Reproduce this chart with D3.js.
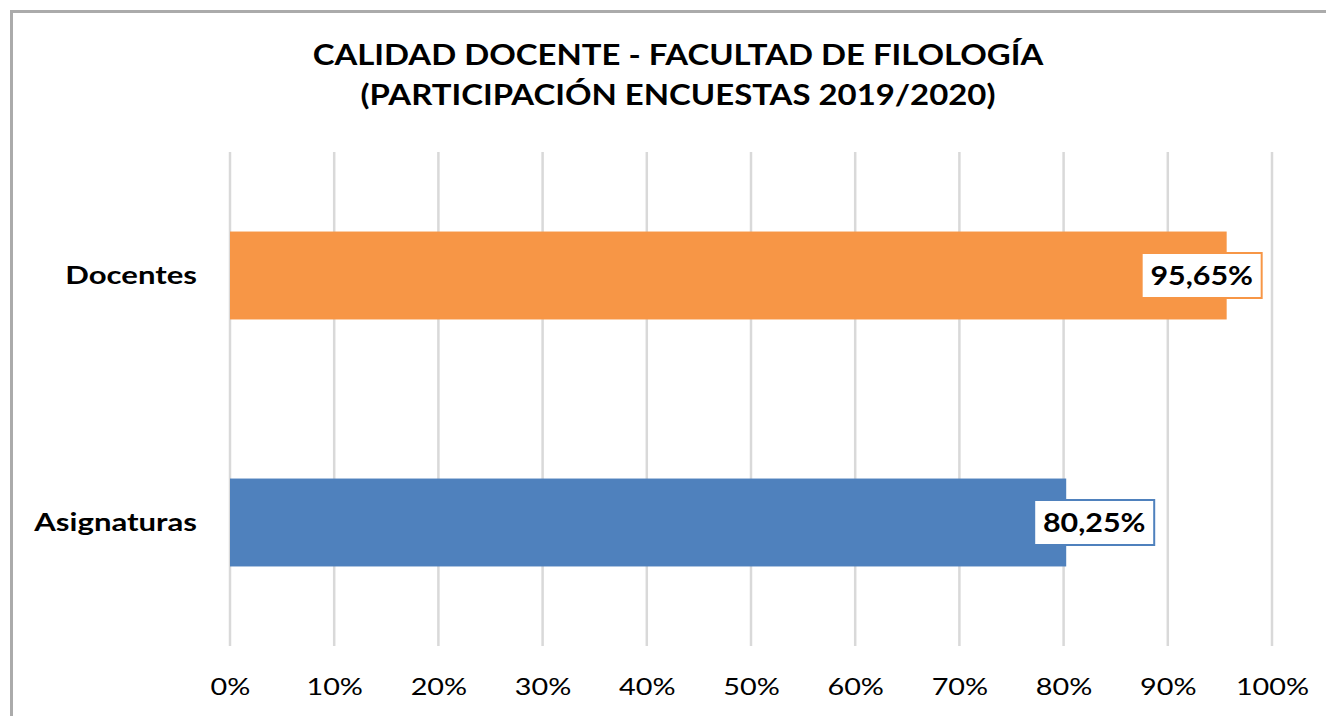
<!DOCTYPE html>
<html>
<head>
<meta charset="utf-8">
<script src="https://cdn.jsdelivr.net/npm/d3@7"></script>
<style>
  html, body { margin: 0; padding: 0; background: #fff; }
  svg { display: block; }
  text { font-family: Lato, "Open Sans", "DejaVu Sans", sans-serif; fill: #000; }
</style>
</head>
<body>
<svg id="chart" width="1326" height="716"></svg>
<script>
// ---- data ----
const titleLines = ["CALIDAD DOCENTE - FACULTAD DE FILOLOGÍA", "(PARTICIPACIÓN ENCUESTAS 2019/2020)"];
const categories = ["Docentes", "Asignaturas"];
const values = [0.9565, 0.8025];
const valueLabels = ["95,65%", "80,25%"];
const tickValues = [0, 0.1, 0.2, 0.3, 0.4, 0.5, 0.6, 0.7, 0.8, 0.9, 1.0];
const tickLabels = ["0%", "10%", "20%", "30%", "40%", "50%", "60%", "70%", "80%", "90%", "100%"];

// ---- styles ----
const colors = ["#F79646", "#4F81BD"];
const labelShift = [-25, 28]; // label box centre relative to bar end (manual placement in original)

const svg = d3.select("#chart");
const W = 1326, H = 716;
const plot = { left: 230, right: 1272, top: 152, bottom: 646 };

// frame
svg.append("rect")
  .attr("x", 11.5).attr("y", 11.5)
  .attr("width", W + 20).attr("height", H + 20)
  .attr("fill", "#fff").attr("stroke", "#ABABAB").attr("stroke-width", 3);

const x = d3.scaleLinear().domain([0, 1]).range([plot.left, plot.right]);
const y = d3.scaleBand().domain(categories).range([plot.top, plot.bottom])
  .paddingInner(0.644).paddingOuter(0.322);

// title
svg.append("g").selectAll("text").data(titleLines).join("text")
  .attr("transform", (d, i) => `translate(678,${65 + i * 40}) scale(1.175,1)`)
  .attr("text-anchor", "middle")
  .attr("font-size", 28).attr("font-weight", 700)
  .text(d => d);

// gridlines
svg.append("g").selectAll("line").data(tickValues).join("line")
  .attr("x1", d => x(d)).attr("x2", d => x(d))
  .attr("y1", plot.top).attr("y2", plot.bottom)
  .attr("stroke", "#D9D9D9").attr("stroke-width", 2.5);

// x axis labels
const xAxis = d3.axisBottom(x).tickValues(tickValues)
  .tickFormat((d, i) => tickLabels[i]).tickSize(0).tickPadding(0);
const gx = svg.append("g").attr("transform", `translate(0,${plot.bottom})`).call(xAxis);
gx.select(".domain").remove();
gx.selectAll("text")
  .attr("y", 0).attr("dy", 0)
  .attr("transform", "translate(0,49) scale(1.2,1)")
  .attr("font-size", 24).attr("font-family", "Lato, 'Open Sans', sans-serif")
  .attr("fill", "#000");

// y axis labels
const yAxis = d3.axisLeft(y).tickSize(0).tickPadding(0);
const gy = svg.append("g").attr("transform", `translate(197,0)`).call(yAxis);
gy.select(".domain").remove();
gy.selectAll("text")
  .attr("x", 0).attr("dy", "0.35em")
  .attr("transform", "scale(1.245,1)")
  .attr("font-size", 25).attr("font-weight", 700)
  .attr("font-family", "Lato, 'Open Sans', sans-serif")
  .attr("fill", "#000");

// bars
svg.append("g").selectAll("rect").data(categories).join("rect")
  .attr("x", x(0)).attr("y", d => y(d))
  .attr("width", (d, i) => x(values[i]) - x(0))
  .attr("height", y.bandwidth())
  .attr("fill", (d, i) => colors[i]);

// value labels with boxes
const lbl = svg.append("g").selectAll("g").data(categories).join("g")
  .attr("transform", (d, i) => `translate(${x(values[i]) + labelShift[i]},${y(d) + y.bandwidth() / 2})`);
lbl.append("rect")
  .attr("x", -60).attr("y", -22.5).attr("width", 120).attr("height", 45)
  .attr("fill", "#fff").attr("stroke", (d, i) => colors[i]).attr("stroke-width", 2);
lbl.append("text")
  .attr("text-anchor", "middle").attr("dy", "0.36em")
  .attr("transform", "scale(1.17,1)")
  .attr("font-size", 26).attr("font-weight", 700)
  .text((d, i) => valueLabels[i]);
</script>
</body>
</html>
